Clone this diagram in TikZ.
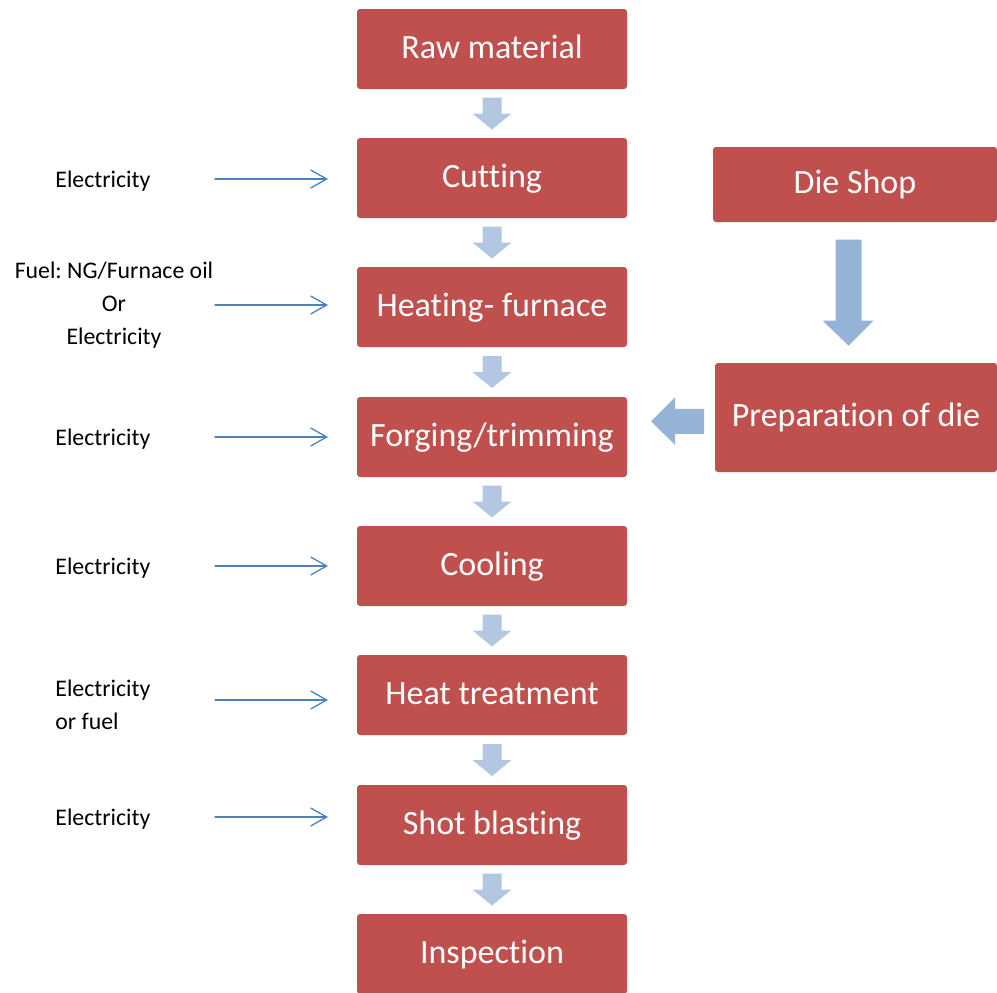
\documentclass[tikz,border=0pt]{standalone}
\usepackage{fontspec}
\setmainfont{Carlito}[Ligatures=CommonOff]
\usetikzlibrary{arrows.meta,calc}
\definecolor{rojo}{HTML}{C0504D}
\definecolor{azulclaro}{HTML}{B4C7E2}
\definecolor{azulmedio}{HTML}{95B3D7}
\definecolor{azul}{HTML}{4F81BD}
\frenchspacing

\begin{document}
\begin{tikzpicture}[x=0.5pt, y=-0.5pt, line cap=round, line join=round,
  paso/.style={fill=rojo, rounded corners=1.5pt, text=white, inner sep=0pt,
    text height=12.5pt, text depth=3.5pt,
    minimum width=135pt, minimum height=40pt, font=\fontsize{17}{20}\selectfont},
  nota/.style={inner sep=0pt, font=\fontsize{11.9}{16.5}\selectfont},
  flecha/.style={-{Straight Barb[length=8pt,width=9pt]}, azul, line width=0.65pt},
  bajada/.pic={\fill[azulclaro] (-9.5,-16) -- (9.5,-16) -- (9.5,0) -- (19.5,0)
    -- (0,16) -- (-19.5,0) -- (-9.5,0) -- cycle;}]
  % Fondo y marco
  \fill[white] (0,0) rectangle (997,992);
  \useasboundingbox (0,0) rectangle (997,992);

  % Etapas del proceso
  \node[paso] (raw)   at (492,49)  {Raw material};
  \node[paso] (cut)   at (492,178) {Cutting};
  \node[paso] (heat)  at (492,307) {Heating- furnace};
  \node[paso] (forge) at (492,437) {Forging/trimming};
  \node[paso] (cool)  at (492,566) {Cooling};
  \node[paso] (treat) at (492,695) {Heat treatment};
  \node[paso] (shot)  at (492,825) {Shot blasting};
  \node[paso] (insp)  at (492,954) {Inspection};

  % Flechas entre etapas
  \foreach \a/\b in {raw/cut, cut/heat, heat/forge, forge/cool, cool/treat, treat/shot, shot/insp}
    \pic at ($(\a.south)!0.5!(\b.north)$) {bajada};

  % Taller de matrices
  \node[paso, minimum width=142pt, minimum height=37.5pt] (die) at (855,184.5) {Die Shop};
  \node[paso, minimum width=141pt, minimum height=54.5pt] (prep) at (856,417.5) {Preparation of die};
  \coordinate (M) at ($($(die.south)!0.5!(prep.north)$)+(-7,0)$);
  \fill[azulmedio] ($(M)+(-13,-53)$) -- ++(26,0) -- ++(0,81) -- ++(12,0)
    -- ($(M)+(0,53)$) -- ($(M)+(-26,28)$) -- ++(13,0) -- cycle;
  \coordinate (L) at ($(forge.east)!0.5!(prep.west)+(6.5,-6)$);
  \fill[azulmedio] ($(L)+(26.5,-12.5)$) -- ++(0,25) -- ++(-29,0) -- ++(0,11)
    -- ($(L)+(-26.5,0)$) -- ($(L)+(-2.5,-24)$) -- ++(0,11.5) -- cycle;

  % Entradas de energía
  \node[nota, anchor=west] (e1) at (55,181) {Electricity};
  \node[nota, align=center] (e2) at (114,305) {Fuel: NG/Furnace oil\\Or\\Electricity};
  \node[nota, anchor=west] (e3) at (55,439) {Electricity};
  \node[nota, anchor=west] (e4) at (55,568) {Electricity};
  \node[nota, anchor=west, align=left] (e5) at (55,705) {Electricity\\or fuel};
  \node[nota, anchor=west] (e6) at (55,819) {Electricity};
  \foreach \n/\y in {1/179, 2/305, 3/437, 4/566, 5/700, 6/817} {
    \coordinate (in\n) at (215,\y);
    \coordinate (out\n) at (328,\y);
    \draw[flecha] (in\n) -- (out\n);
  }
\end{tikzpicture}
\end{document}
